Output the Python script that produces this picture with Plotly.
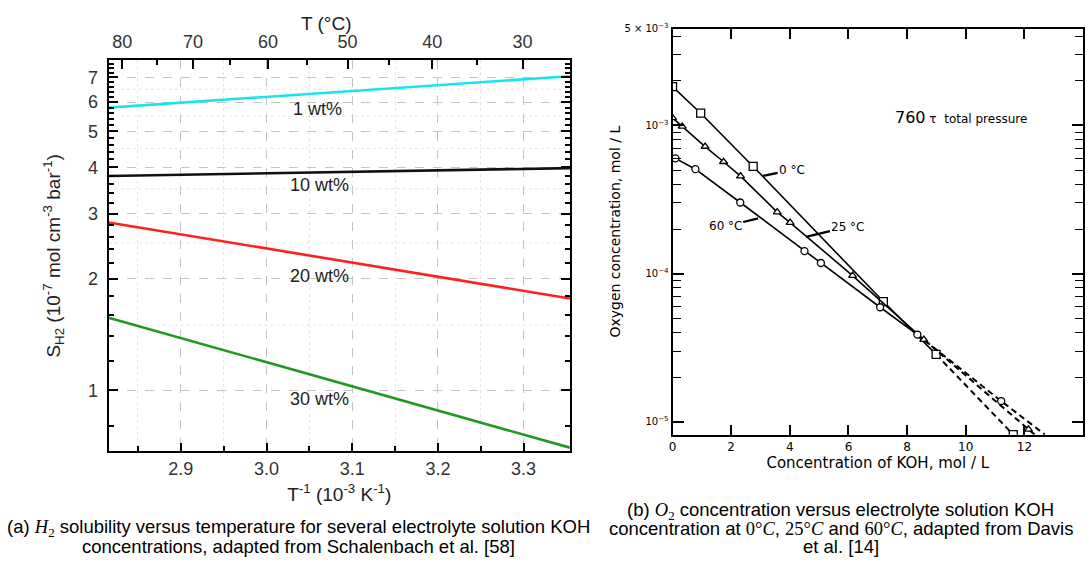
import math
import plotly.graph_objects as go

# ---------------- (a) H2 solubility vs. inverse temperature ----------------
temp_edges_c = [82, 25]                      # temperature span of the fitted lines (°C)
inv_t = [1000.0 / (t + 273.15) for t in temp_edges_c]   # 10^-3 K^-1
s_1wt = [5.80, 7.05]
s_10wt = [3.79, 3.98]
s_20wt = [2.84, 1.77]
s_30wt = [1.57, 0.70]
series_labels = ["1 wt%", "10 wt%", "20 wt%", "30 wt%"]
label_inv_t = [3.06, 3.062, 3.062, 3.062]
label_s = [5.75, 3.58, 2.04, 0.95]

inv_t_ticks = [2.9, 3.0, 3.1, 3.2, 3.3]
inv_t_minor = [2.85, 2.95, 3.05, 3.15, 3.25]
top_temps_c = [80, 70, 60, 50, 40, 30]
top_temps_minor_c = [75, 65, 55, 45, 35]
s_ticks = [1, 2, 3, 4, 5, 6, 7]
s_minor = [0.8, 1.2, 1.4, 1.6, 1.8, 2.2, 2.4, 2.6, 2.8, 3.2, 3.4, 3.6, 3.8,
           4.2, 4.4, 4.6, 4.8, 5.2, 5.4, 5.6, 5.8, 6.2, 6.4, 6.6, 6.8, 7.2, 7.4, 7.6]
s_minor_grid = [1.5, 2.5, 3.5, 4.5, 5.5, 6.5]

# ---------------- (b) O2 concentration vs. KOH concentration ----------------
koh_0c = [0.0, 0.96, 2.75, 7.19, 8.99]
o2_0c = [1.83e-3, 1.21e-3, 5.29e-4, 6.48e-5, 2.85e-5]
koh_0c_ext = [8.99, 11.62]
o2_0c_ext = [2.85e-5, 8.19e-6]

koh_25c = [0.0, 0.33, 1.11, 1.74, 2.32, 3.57, 4.01, 6.14, 8.57]
o2_25c = [1.125e-3, 9.85e-4, 7.21e-4, 5.69e-4, 4.55e-4, 2.60e-4, 2.21e-4, 9.7e-5, 3.59e-5]
koh_25c_ext = [8.57, 12.14, 12.35]
o2_25c_ext = [3.59e-5, 8.9e-6, 8.19e-6]

koh_60c = [0.1, 0.78, 2.31, 4.50, 5.06, 7.08, 8.35]
o2_60c = [6.0e-4, 5.07e-4, 3.02e-4, 1.42e-4, 1.18e-4, 5.93e-5, 3.88e-5]
koh_60c_ext = [8.35, 11.21, 12.70]
o2_60c_ext = [3.88e-5, 1.38e-5, 8.19e-6]

koh_ticks = [0, 2, 4, 6, 8, 10, 12, 14]
o2_ticks = [1e-5, 1e-4, 1e-3]
o2_top = 10 ** -2.347
o2_minor = [m * d for d in (1e-5, 1e-4, 1e-3) for m in range(2, 10)]

W, H = 1089, 564
SANS = "Liberation Sans, Arial, sans-serif"
OLD = "DejaVu Sans, sans-serif"


def px_x(p):
    return p / W


def px_y(p):
    return 1 - p / H


fig = go.Figure()

# curves of panel (a)
colors_a = ["#18e4f0", "#111111", "#ff1f1f", "#1f9a1f"]
for vals, col, name in zip([s_1wt, s_10wt, s_20wt, s_30wt], colors_a, series_labels):
    fig.add_trace(go.Scatter(x=inv_t, y=vals, mode="lines", name=name,
                             line=dict(color=col, width=2.6),
                             xaxis="x", yaxis="y", showlegend=False, hoverinfo="skip"))
# keeps the °C axis bound to the same frame
fig.add_trace(go.Scatter(x=inv_t, y=s_10wt, mode="none", xaxis="x2", yaxis="y",
                         showlegend=False, hoverinfo="skip"))

for name, xv, yv in zip(series_labels, label_inv_t, label_s):
    fig.add_annotation(x=xv, y=math.log10(yv), xref="x", yref="y", text=name,
                       showarrow=False, font=dict(family=SANS, size=18, color="#222"))

for v in s_minor_grid:
    fig.add_shape(type="line", xref="x domain", yref="y", x0=0, x1=1, y0=v, y1=v,
                  line=dict(color="#e4e4e4", width=1, dash="dot"), layer="below")

fig.add_annotation(x=px_x(324), y=px_y(17), xref="paper", yref="paper", text="T (°C)",
                   showarrow=False, xanchor="center", yanchor="middle",
                   font=dict(family=SANS, size=19, color="#222"))

# curves of panel (b)
for kx, ky, ex, ey, sym, size in [
    (koh_0c, o2_0c, koh_0c_ext, o2_0c_ext, "square", 8),
    (koh_25c, o2_25c, koh_25c_ext, o2_25c_ext, "triangle-up", 7),
    (koh_60c, o2_60c, koh_60c_ext, o2_60c_ext, "circle", 7),
]:
    fig.add_trace(go.Scatter(x=ex, y=ey, mode="lines", xaxis="x3", yaxis="y3",
                             line=dict(color="black", width=2, dash="6px,4px"),
                             showlegend=False, hoverinfo="skip"))
    fig.add_trace(go.Scatter(x=kx, y=ky, mode="lines", xaxis="x3", yaxis="y3",
                             line=dict(color="black", width=1.6),
                             showlegend=False, hoverinfo="skip"))
    fig.add_trace(go.Scatter(x=kx + ex[1:2], y=ky + ey[1:2], mode="markers",
                             xaxis="x3", yaxis="y3",
                             marker=dict(symbol=sym, size=size, color="white",
                                         line=dict(color="black", width=1.3)),
                             showlegend=False, hoverinfo="skip"))

# curve labels with short leaders
for txt, xv, yv, ax, ay in [("0 °C", 3.09, 4.57e-4, 29, -6),
                            ("25 °C", 4.55, 1.77e-4, 42, -10),
                            ("60 °C", 2.92, 2.36e-4, -33, 8)]:
    fig.add_annotation(x=xv, y=math.log10(yv), xref="x3", yref="y3", text=txt,
                       showarrow=True, arrowhead=0, arrowwidth=2.2, arrowcolor="black",
                       ax=ax, ay=ay, standoff=0,
                       font=dict(family=OLD, size=12, color="black"))

fig.add_annotation(x=px_x(961), y=px_y(100), xref="paper", yref="paper",
                   xanchor="center",
                   text="<span style='font-size:16px'>760</span> τ  total pressure",
                   showarrow=False, font=dict(family=OLD, size=12, color="black"))

# captions, one annotation per line
MATH = "font-family:'Liberation Serif', serif"


def mspan(s):
    return "<span style=\"" + MATH + "\">" + s + "</span>"


cap_a = ["(a) " + mspan("<i>H</i><sub>2</sub>") +
         " solubility versus temperature for several electrolyte solution KOH",
         "concentrations, adapted from Schalenbach et al. [58]"]
cap_b = ["(b) " + mspan("<i>O</i><sub>2</sub>") +
         " concentration versus electrolyte solution KOH",
         "concentration at " + mspan("0°<i>C</i>") + ", " + mspan("25°<i>C</i>") +
         " and " + mspan("60°<i>C</i>") + ", adapted from Davis",
         "et al. [14]"]
CAP_FONT = dict(family=SANS, size=18.5, color="black")
for line, yc in zip(cap_a, [528, 546]):
    fig.add_annotation(x=px_x(296), y=px_y(yc), xref="paper", yref="paper", text=line,
                       showarrow=False, xanchor="center", yanchor="middle",
                       font=CAP_FONT)
for line, yc in zip(cap_b, [510, 528, 546]):
    fig.add_annotation(x=px_x(840), y=px_y(yc), xref="paper", yref="paper", text=line,
                       showarrow=False, xanchor="center", yanchor="middle",
                       font=CAP_FONT)

axis_font = dict(family=SANS, size=18, color="#333")
title_font = dict(family=SANS, size=19, color="#222")

fig.update_layout(
    width=W, height=H, margin=dict(l=0, r=0, t=0, b=0),
    paper_bgcolor="white", plot_bgcolor="white", showlegend=False,
    xaxis=dict(
        domain=[px_x(105), px_x(568)], anchor="y",
        range=[inv_t[0], inv_t[1]], tickmode="array", tickvals=inv_t_ticks,
        tickformat=".1f", ticks="inside", ticklen=8, tickwidth=2, tickcolor="black",
        showline=True, linecolor="black", linewidth=2, zeroline=False,
        showgrid=True, gridcolor="#c4c4c4", griddash="dash", gridwidth=1,
        minor=dict(tickvals=inv_t_minor, ticks="inside", ticklen=5, tickwidth=1.5,
                   tickcolor="black", showgrid=True, gridcolor="#e6e6e6",
                   griddash="dot"),
        tickfont=axis_font,
        title=dict(text="T<sup>-1</sup> (10<sup>-3</sup> K<sup>-1</sup>)",
                   font=title_font, standoff=10),
    ),
    xaxis2=dict(
        overlaying="x", side="top", anchor="y",
        range=[inv_t[0], inv_t[1]], tickmode="array",
        tickvals=[1000.0 / (t + 273.15) for t in top_temps_c],
        ticktext=[str(t) for t in top_temps_c],
        ticks="inside", ticklen=9, tickwidth=2, tickcolor="black",
        showline=True, linecolor="black", linewidth=2, zeroline=False, showgrid=False,
        minor=dict(tickvals=[1000.0 / (t + 273.15) for t in top_temps_minor_c],
                   ticks="inside", ticklen=5, tickwidth=1.5, tickcolor="black"),
        tickfont=axis_font, ticklabelstandoff=3,
    ),
    yaxis=dict(
        domain=[px_y(450), px_y(54)], anchor="x", type="log",
        range=[-0.165, 0.891],
        tickmode="array", tickvals=s_ticks, ticktext=[str(v) for v in s_ticks],
        ticks="inside", ticklen=9, tickwidth=2, tickcolor="black",
        showline=True, linecolor="black", linewidth=2, mirror="ticks", zeroline=False,
        showgrid=True, gridcolor="#c4c4c4", griddash="dash", gridwidth=1,
        minor=dict(tickvals=s_minor, ticks="inside", ticklen=5, tickwidth=1.5,
                   tickcolor="black", showgrid=False),
        tickfont=axis_font, ticklabelstandoff=5,
        title=dict(text="S<sub>H2</sub> (10<sup>-7</sup> mol cm<sup>-3</sup> bar<sup>-1</sup>)",
                   font=title_font, standoff=22),
    ),
    xaxis3=dict(
        domain=[px_x(671), px_x(1083)], anchor="y3",
        range=[0, 14], tickmode="array", tickvals=koh_ticks,
        ticks="inside", ticklen=10, tickwidth=1.5, tickcolor="black",
        showline=True, linecolor="black", linewidth=2, mirror="ticks",
        zeroline=False, showgrid=False,
        tickfont=dict(family=OLD, size=12, color="black"),
        title=dict(text="Concentration of KOH, mol / L",
                   font=dict(family=OLD, size=15, color="black"), standoff=4),
    ),
    yaxis3=dict(
        domain=[px_y(433), px_y(22)], anchor="x3", type="log",
        range=[-5.0867, -2.347], tickmode="array",
        tickvals=o2_ticks + [o2_top],
        ticktext=["10<sup>−5</sup>", "10<sup>−4</sup>", "10<sup>−3</sup>",
                  "5 × 10<sup>−3</sup>"],
        ticks="inside", ticklen=11, tickwidth=1.5, tickcolor="black",
        showline=True, linecolor="black", linewidth=2, mirror="ticks",
        zeroline=False, showgrid=False,
        minor=dict(tickvals=o2_minor, ticks="inside", ticklen=8, tickwidth=1.3,
                   tickcolor="black"),
        tickfont=dict(family=OLD, size=10, color="black"),
        title=dict(text="Oxygen concentration, mol / L",
                   font=dict(family=OLD, size=14, color="black"), standoff=0),
    ),
)

fig.write_html("out.html")
